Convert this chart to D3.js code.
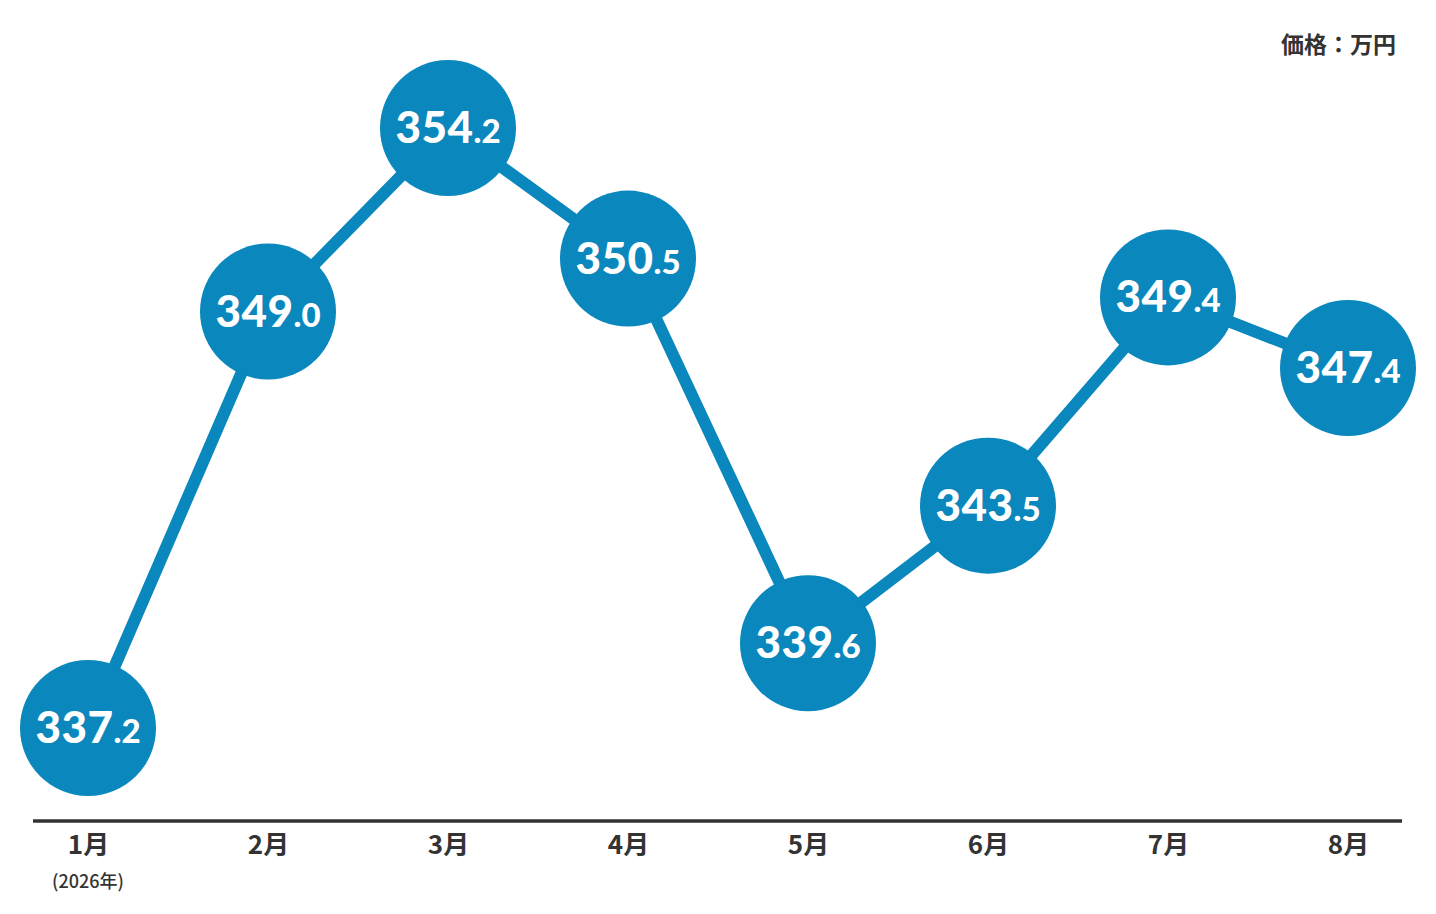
<!DOCTYPE html>
<html>
<head>
<meta charset="utf-8">
<script src="https://cdn.jsdelivr.net/npm/d3@7"></script>
<style>
  body { margin: 0; background: #fff; }
</style>
</head>
<body>
<div class="chart"></div>
<script>
var months = ['1月', '2月', '3月', '4月', '5月', '6月', '7月', '8月'];
var prices = [337.2, 349.0, 354.2, 350.5, 339.6, 343.5, 349.4, 347.4];
var unitLabel = '価格：万円';
var yearNote = '(2026年)';

var blue = '#0a87bd';
var dark = '#333333';

var svg = d3.select('.chart')
    .append('svg')
    .attr('width', 1436)
    .attr('height', 914);

var x = d3.scalePoint()
    .domain(months)
    .range([88, 1348]);

var y = d3.scaleLinear()
    .domain([337.2, 354.2])
    .range([728, 128]);

// baseline axis
var xAxis = d3.axisBottom(x).tickSize(0).tickPadding(15);
var ax = svg.append('g')
    .attr('transform', 'translate(0,821)')
    .call(xAxis);
ax.select('.domain').remove();
ax.append('line')
    .attr('x1', 33)
    .attr('x2', 1402)
    .attr('stroke', dark)
    .attr('stroke-width', 3.5);
ax.selectAll('.tick text')
    .attr('fill', dark)
    .style('font-size', '26px')
    .style('font-weight', 'bold')
    .attr('font-family', "'Noto Sans CJK JP', 'Noto Sans', sans-serif");

svg.append('text')
    .attr('x', x(months[0]))
    .attr('y', 888)
    .attr('text-anchor', 'middle')
    .text(yearNote)
    .style('font-size', '18px')
    .style('font-weight', '500')
    .attr('font-family', "'Noto Sans CJK JP', sans-serif")
    .attr('fill', dark);

svg.append('text')
    .attr('x', 1396)
    .attr('y', 53)
    .attr('text-anchor', 'end')
    .text(unitLabel)
    .style('font-size', '23px')
    .style('font-weight', 'bold')
    .attr('font-family', "'Noto Sans CJK JP', sans-serif")
    .attr('fill', dark);

// line
var line = d3.line()
    .x(function(d, i) { return x(months[i]); })
    .y(function(d) { return y(d); });

svg.append('path')
    .datum(prices)
    .attr('d', line)
    .attr('fill', 'none')
    .attr('stroke', blue)
    .attr('stroke-width', 12);

// bubbles
var pts = svg.selectAll('.pt')
    .data(prices)
    .enter()
    .append('g')
    .attr('class', 'pt')
    .attr('transform', function(d, i) {
        return 'translate(' + x(months[i]) + ',' + y(d) + ')';
    });

pts.append('circle')
    .attr('r', 68)
    .attr('fill', blue);

var lbl = pts.append('text')
    .attr('text-anchor', 'middle')
    .attr('y', 15)
    .attr('fill', '#fff')
    .attr('font-family', "Lato, 'Noto Sans', sans-serif")
    .style('font-weight', '900');

lbl.append('tspan')
    .style('font-size', '44px')
    .style('letter-spacing', '0.5px')
    .text(function(d) { return d.toFixed(1).split('.')[0]; });
lbl.append('tspan')
    .style('font-size', '33px')
    .text(function(d) { return '.' + d.toFixed(1).split('.')[1]; });
</script>
</body>
</html>
